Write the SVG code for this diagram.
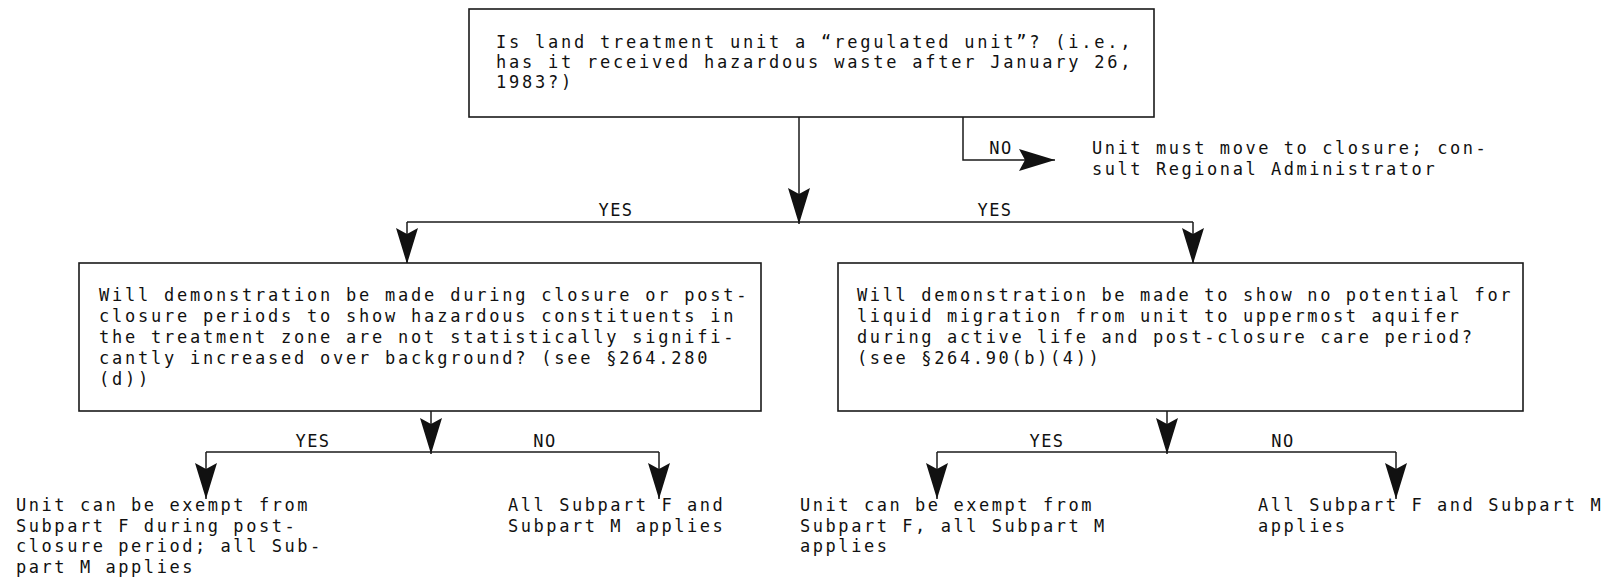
<svg xmlns="http://www.w3.org/2000/svg" width="1608" height="580" viewBox="0 0 1608 580">
<style>
.t{font-family:"DejaVu Sans Mono","Liberation Mono",monospace;font-size:17px;letter-spacing:2.55px;fill:#111}
.b{font-family:"DejaVu Sans Mono","Liberation Mono",monospace;font-size:17px;letter-spacing:2.77px;fill:#111}
.b2{font-family:"DejaVu Sans Mono","Liberation Mono",monospace;font-size:17px;letter-spacing:2.63px;fill:#111}
.l{font-family:"DejaVu Sans Mono","Liberation Mono",monospace;font-size:17px;letter-spacing:1.5px;fill:#111;text-anchor:middle}
.box{fill:#fff;stroke:#1a1a1a;stroke-width:1.6}
.c{fill:none;stroke:#1a1a1a;stroke-width:1.5}
.a{fill:none;stroke:#1a1a1a;stroke-width:1.5;marker-end:url(#ah)}
</style>
<defs>
<marker id="ah" markerUnits="userSpaceOnUse" viewBox="0 0 36 22" refX="36" refY="11" markerWidth="36" markerHeight="22" orient="auto">
<path d="M0,0 L36,11 L0,22 L6,11 Z" fill="#111"/>
</marker>
</defs>
<rect width="1608" height="580" fill="#fff"/>
<g id="connectors">
<path class="a" d="M799,117 V224"/>
<path class="c" d="M407,222 H1193"/>
<path class="a" d="M407,222 V264"/>
<path class="a" d="M1193,222 V264"/>
<path class="a" d="M963,117 V160 H1055"/>
<path class="a" d="M431,411 V454"/>
<path class="c" d="M206,452 H659"/>
<path class="a" d="M206,452 V499"/>
<path class="a" d="M659,452 V499"/>
<path class="a" d="M1167,411 V454"/>
<path class="c" d="M937,452 H1396"/>
<path class="a" d="M937,452 V499"/>
<path class="a" d="M1396,452 V499"/>
<text class="l" x="616" y="216">YES</text>
<text class="l" x="995" y="216">YES</text>
<text class="l" x="1001" y="154">NO</text>
<text class="l" x="313" y="447">YES</text>
<text class="l" x="545" y="447">NO</text>
<text class="l" x="1047" y="447">YES</text>
<text class="l" x="1283" y="447">NO</text>
</g>
<g id="q1">
<rect class="box" x="469" y="9" width="685" height="108"/>
<text class="b" x="496" y="48">Is land treatment unit a “regulated unit”? (i.e.,</text>
<text class="b" x="496" y="68">has it received hazardous waste after January 26,</text>
<text class="b" x="496" y="88">1983?)</text>
</g>
<g id="closure">
<text class="t" x="1092" y="154">Unit must move to closure; con-</text>
<text class="t" x="1092" y="175">sult Regional Administrator</text>
</g>
<g id="q2">
<rect class="box" x="79" y="263" width="682" height="148"/>
<text class="b" x="99" y="301">Will demonstration be made during closure or post-</text>
<text class="b" x="99" y="322">closure periods to show hazardous constituents in</text>
<text class="b" x="99" y="343">the treatment zone are not statistically signifi-</text>
<text class="b" x="99" y="364">cantly increased over background? (see §264.280</text>
<text class="b" x="99" y="385">(d))</text>
</g>
<g id="q3">
<rect class="box" x="838" y="263" width="685" height="148"/>
<text class="b2" x="857" y="301">Will demonstration be made to show no potential for</text>
<text class="b2" x="857" y="322">liquid migration from unit to uppermost aquifer</text>
<text class="b2" x="857" y="343">during active life and post-closure care period?</text>
<text class="b2" x="857" y="364">(see §264.90(b)(4))</text>
</g>
<g id="r1">
<text class="t" x="16" y="511">Unit can be exempt from</text>
<text class="t" x="16" y="532">Subpart F during post-</text>
<text class="t" x="16" y="552">closure period; all Sub-</text>
<text class="t" x="16" y="573">part M applies</text>
</g>
<g id="r2">
<text class="t" x="508" y="511">All Subpart F and</text>
<text class="t" x="508" y="532">Subpart M applies</text>
</g>
<g id="r3">
<text class="t" x="800" y="511">Unit can be exempt from</text>
<text class="t" x="800" y="532">Subpart F, all Subpart M</text>
<text class="t" x="800" y="552">applies</text>
</g>
<g id="r4">
<text class="t" x="1258" y="511">All Subpart F and Subpart M</text>
<text class="t" x="1258" y="532">applies</text>
</g>
</svg>
